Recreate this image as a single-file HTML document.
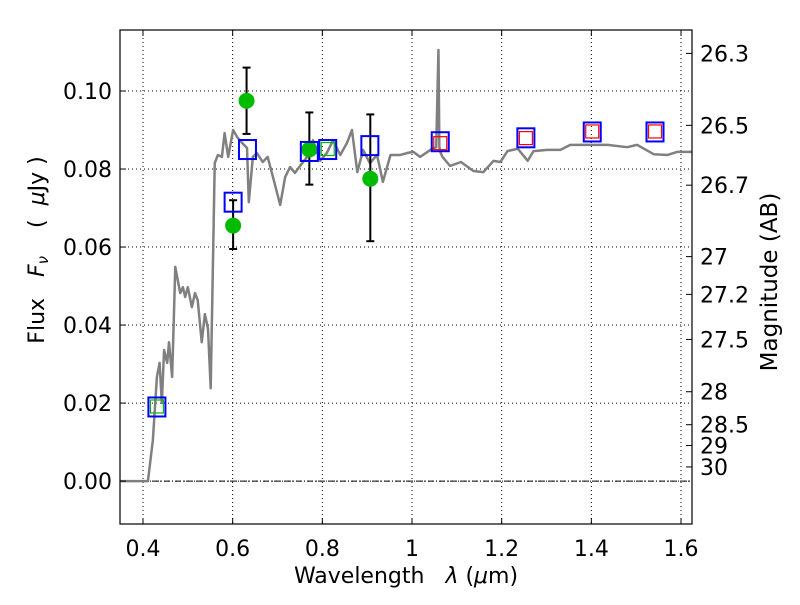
<!DOCTYPE html>
<html><head><meta charset="utf-8"><style>
body{margin:0;background:#fff}
svg text{font-family:"DejaVu Sans","Liberation Sans",sans-serif;fill:#000}
</style></head><body>
<svg id="chart" width="800" height="600" xmlns="http://www.w3.org/2000/svg">
<rect width="800" height="600" fill="#fff"/>
<g id="grid"></g>
<g id="series"></g>
<g id="axes"></g>
<text x="406" y="583" font-size="22" text-anchor="middle" xml:space="preserve">Wavelength   <tspan font-style="italic">λ</tspan> (<tspan font-style="italic">μ</tspan>m)</text>
<text transform="translate(44,250) rotate(-90)" font-size="22" text-anchor="middle" xml:space="preserve">Flux   <tspan font-style="italic">F</tspan><tspan font-style="italic" font-size="15" dy="4">ν</tspan><tspan dy="-4">    (  </tspan><tspan font-style="italic">μ</tspan>Jy )</text>
<text transform="translate(777,282) rotate(-90)" font-size="23" text-anchor="middle">Magnitude (AB)</text>
</svg>
<script>
const specLam=[0.35,0.411,0.422,0.431,0.437,0.442,0.447,0.454,0.458,0.465,0.472,0.483,0.489,0.494,0.500,0.509,0.516,0.522,0.531,0.538,0.545,0.551,0.560,0.567,0.576,0.582,0.590,0.601,0.610,0.621,0.632,0.636,0.645,0.654,0.667,0.678,0.690,0.706,0.717,0.728,0.739,0.755,0.766,0.779,0.795,0.810,0.824,0.840,0.855,0.866,0.878,0.891,0.906,0.922,0.935,0.952,0.974,0.989,1.003,1.018,1.041,1.054,1.059,1.061,1.064,1.068,1.085,1.109,1.137,1.159,1.182,1.197,1.213,1.236,1.258,1.271,1.302,1.331,1.353,1.392,1.436,1.480,1.502,1.539,1.570,1.592,1.625];
const specFlux=[0,0,0.0105,0.0267,0.0303,0.020,0.0336,0.0303,0.0356,0.0267,0.0549,0.0482,0.0497,0.0472,0.0497,0.0446,0.0482,0.0464,0.0356,0.0428,0.0390,0.0238,0.0815,0.0836,0.0831,0.0892,0.0831,0.090,0.0882,0.0867,0.0854,0.0715,0.0831,0.0841,0.0818,0.0831,0.0779,0.0708,0.0779,0.0805,0.079,0.0815,0.0831,0.0874,0.0821,0.0841,0.0874,0.0836,0.0867,0.090,0.0792,0.0849,0.0815,0.0836,0.0767,0.0836,0.0836,0.0841,0.0844,0.0831,0.0849,0.0856,0.1105,0.0856,0.0841,0.0831,0.0808,0.0818,0.0795,0.0792,0.0821,0.0818,0.0846,0.0852,0.0821,0.0846,0.0849,0.0849,0.0862,0.0862,0.0862,0.0856,0.0862,0.0838,0.0836,0.0844,0.0844];
const photLam=[0.601,0.631,0.771,0.907];
const photFlux=[0.0655,0.0975,0.085,0.0775];
const photLo=[0.0595,0.089,0.076,0.0615];
const photHi=[0.072,0.106,0.0945,0.094];
const modelLam=[0.431,0.601,0.633,0.771,0.812,0.906,1.063,1.254,1.402,1.542];
const modelFlux=[0.019,0.0715,0.085,0.0845,0.085,0.086,0.087,0.088,0.0895,0.0895];
const innerLam=[0.431,0.812,1.063,1.254,1.402,1.542];
const innerFlux=[0.019,0.085,0.0865,0.0878,0.0895,0.0895];
const innerColor=['#00bb00','#00bb00','red','red','red','red'];
const xTicks=[0.4,0.6,0.8,1.0,1.2,1.4,1.6];
const xTickLabels=['0.4','0.6','0.8','1','1.2','1.4','1.6'];
const yTicks=[0,0.02,0.04,0.06,0.08,0.10];
const yTickLabels=['0.00','0.02','0.04','0.06','0.08','0.10'];
const magTicks=[26.3,26.5,26.7,27,27.2,27.5,28,28.5,29,30];
const magLabels=['26.3','26.5','26.7','27','27.2','27.5','28','28.5','29','30'];

const L=120,R=692,T=30,B=524,xmin=0.3487,xmax=1.6245,ymin=-0.0110,ymax=0.11564;
const X=v=>L+(v-xmin)/(xmax-xmin)*(R-L);
const Y=v=>B-(v-ymin)/(ymax-ymin)*(B-T);
const NS='http://www.w3.org/2000/svg';
function mk(tag,attrs,parent){const e=document.createElementNS(NS,tag);for(const k in attrs)e.setAttribute(k,attrs[k]);parent.appendChild(e);return e;}
const grid=document.getElementById('grid'),ser=document.getElementById('series'),ax=document.getElementById('axes');

xTicks.forEach((t,i)=>{
  const g=mk('line',{x1:X(t),x2:X(t),y1:T,y2:B,stroke:'#000','stroke-width':1,'stroke-dasharray':'1,3'},grid);
  
  
  mk('line',{x1:X(t),x2:X(t),y1:B,y2:B-6,stroke:'#000'},ax);
  mk('line',{x1:X(t),x2:X(t),y1:T,y2:T+6,stroke:'#000'},ax);
  const tx=mk('text',{x:X(t),y:B+32,'font-size':22,'text-anchor':'middle'},ax);
  tx.textContent=xTickLabels[i];
  
  
});
yTicks.forEach((t,i)=>{
  const g=mk('line',{x1:L,x2:R,y1:Y(t),y2:Y(t),stroke:'#000','stroke-width':1,'stroke-dasharray':'1,3'},grid);
  
  
  mk('line',{x1:L,x2:L+6,y1:Y(t),y2:Y(t),stroke:'#000'},ax);
  const tx=mk('text',{x:L-8,y:Y(t)+8,'font-size':22,'text-anchor':'end'},ax);
  tx.textContent=yTickLabels[i];
  
  
});
const zl=mk('line',{x1:L,x2:R,y1:Y(0),y2:Y(0),stroke:'#000','stroke-width':1,'stroke-dasharray':'6,2,1,2'},grid);


magTicks.forEach((m,i)=>{
  const f=Math.pow(10,(23.9-m)/2.5);
  mk('line',{x1:R,x2:R-6,y1:Y(f),y2:Y(f),stroke:'#000'},ax);
  const tx=mk('text',{x:R+8,y:Y(f)+8,'font-size':22},ax);
  tx.textContent=magLabels[i];
  
  
});
const fr=mk('rect',{x:L,y:T,width:R-L,height:B-T,fill:'none',stroke:'#000','stroke-width':1.2},ax);



const sp=mk('polyline',{points:specLam.map((l,i)=>X(l)+','+Y(specFlux[i])).join(' '),fill:'none',stroke:'#808080','stroke-width':2.5,'stroke-linejoin':'round'},ser);



photLam.forEach((l,i)=>{
  const g=mk('g',{},ser);
  
  
  mk('line',{x1:X(l),x2:X(l),y1:Y(photLo[i]),y2:Y(photHi[i]),stroke:'#000','stroke-width':2},g);
  mk('line',{x1:X(l)-4,x2:X(l)+4,y1:Y(photLo[i]),y2:Y(photLo[i]),stroke:'#000','stroke-width':2},g);
  mk('line',{x1:X(l)-4,x2:X(l)+4,y1:Y(photHi[i]),y2:Y(photHi[i]),stroke:'#000','stroke-width':2},g);
  mk('circle',{cx:X(l),cy:Y(photFlux[i]),r:8,fill:'#00bb00'},g);
});
modelLam.forEach((l,i)=>{
  const r=mk('rect',{x:X(l)-8.5,y:Y(modelFlux[i])-9.5,width:17,height:19,fill:'none',stroke:'#0000ff','stroke-width':2},ser);
  
  
});
innerLam.forEach((l,i)=>{
  const r=mk('rect',{x:X(l)-6.5,y:Y(innerFlux[i])-7,width:13,height:13,fill:'none',stroke:innerColor[i],'stroke-width':1.2},ser);
  
  
});
</script>
</body></html>
